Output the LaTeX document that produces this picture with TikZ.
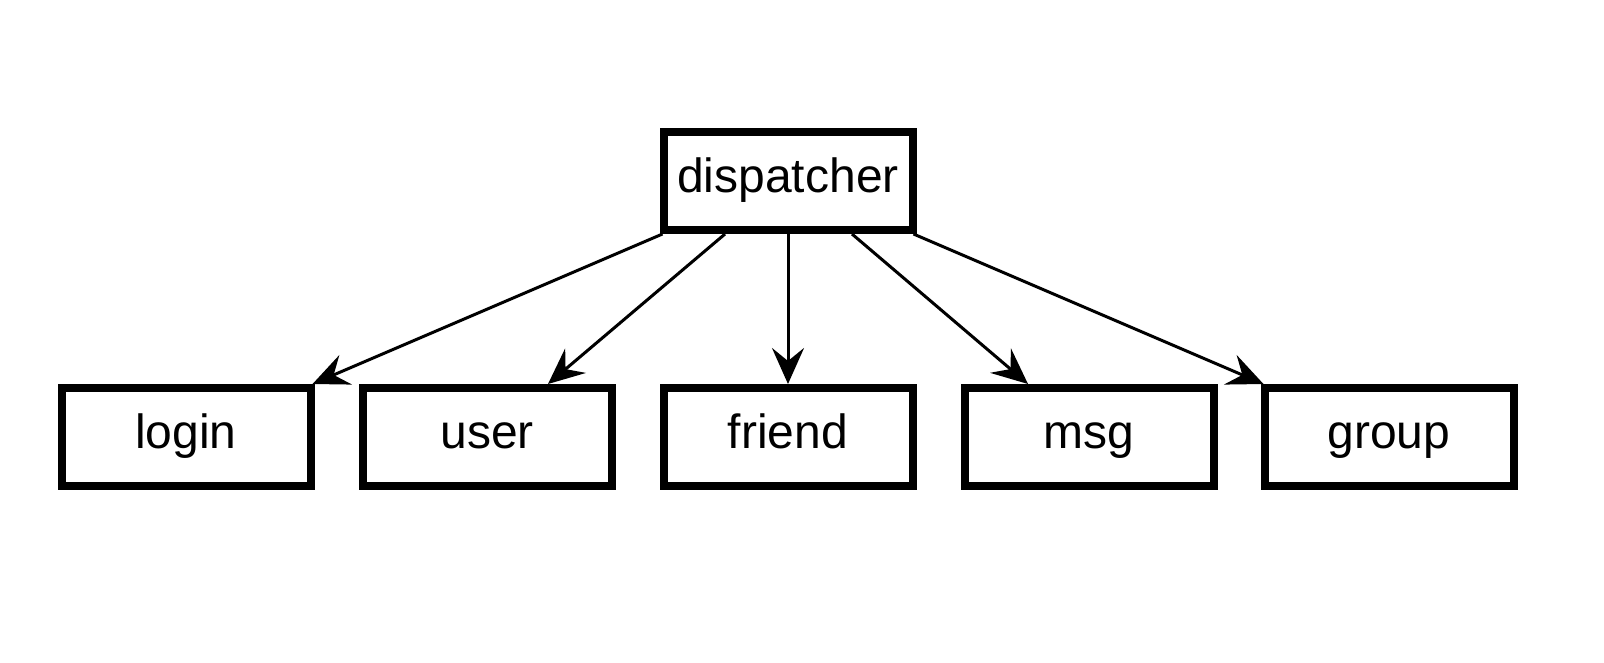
\documentclass[tikz,border=0pt]{standalone}
\usepackage{fontspec}
\setmainfont{Liberation Sans}
\usetikzlibrary{arrows.meta}
\begin{document}
\begin{tikzpicture}[x=1pt,y=-1pt,
  modbox/.style={draw=black,line width=8pt,minimum width=249pt,minimum height=98pt,inner sep=0pt,
    text height=34pt,text depth=12pt,font=\fontsize{48}{56}\selectfont},
  link/.style={line width=3pt,-{Stealth[length=36pt,width=32pt,inset=13pt]}}]
\useasboundingbox (0,0) rectangle (1604,662);
\node[modbox] (d) at (788,181) {dispatcher};
\node[modbox] (login) at (186,437) {login};
\node[modbox] (user) at (487,437) {user};
\node[modbox] (friend) at (788,437) {friend};
\node[modbox] (msg) at (1089,437) {msg};
\node[modbox] (group) at (1389,437) {group};
\draw[link] ([xshift=3pt]d.south west) -- ([xshift=-2pt]login.north east);
\draw[link] ([xshift=-63pt]d.south) -- ([xshift=61pt]user.north);
\draw[link] (d.south) -- (friend.north);
\draw[link] ([xshift=64pt]d.south) -- ([xshift=-61pt]msg.north);
\draw[link] ([xshift=-3pt]d.south east) -- ([xshift=3pt]group.north west);
\end{tikzpicture}
\end{document}
